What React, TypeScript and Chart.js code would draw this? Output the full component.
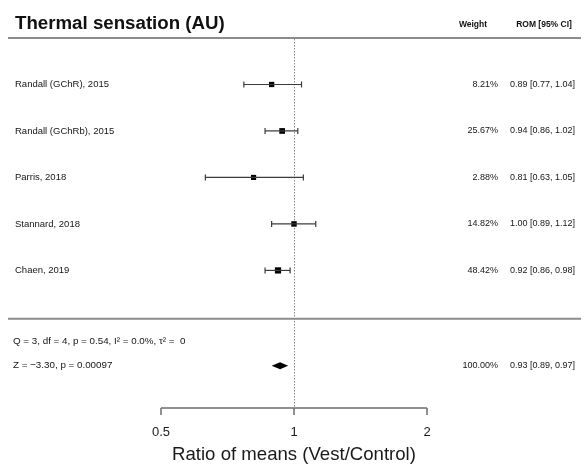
import React, { useEffect, useRef } from "react";
import { Chart, registerables } from "chart.js";

Chart.register(...registerables);

const studies = [
  "Randall (GChR), 2015",
  "Randall (GChRb), 2015",
  "Parris, 2018",
  "Stannard, 2018",
  "Chaen, 2019",
];
const estimates = [0.89, 0.94, 0.81, 1.0, 0.92];
const lowerCI = [0.77, 0.86, 0.63, 0.89, 0.86];
const upperCI = [1.04, 1.02, 1.05, 1.12, 0.98];
const weights = [8.21, 25.67, 2.88, 14.82, 48.42];
const pooled = [0.93, 0.89, 0.97]; // estimate, lower, upper
const pooledWeight = 100.0;
const heterogeneityText = "Q = 3, df = 4, p = 0.54, I² = 0.0%, τ² =  0";
const testText = "Z = −3.30, p = 0.00097";
const xTicks = [0.5, 1, 2];
const tickLabels = ["0.5", "1", "2"];
const titleText = "Thermal sensation (AU)";
const xTitle = "Ratio of means (Vest/Control)";
const headerWeight = "Weight";
const headerROM = "ROM [95% CI]";

const FONT = "'Liberation Sans', Arial, sans-serif";

export default function App() {
  const ref = useRef<HTMLCanvasElement | null>(null);

  useEffect(() => {
    const canvas = ref.current;
    if (!canvas) return;

    const rows = studies.map((_, i) => i + 1);
    const separatorRow = 6.04;
    const hetRow = 6.52;
    const pooledRow = 7.05;

    const fmt = (v: number) => v.toFixed(2);

    const forestPlugin = {
      id: "forest",
      beforeDatasetsDraw(chart: any) {
        const { ctx, scales, chartArea } = chart;
        const xs = scales.x;
        const x1 = xs.getPixelForValue(1);
        ctx.save();
        ctx.strokeStyle = "#8a8a8a";
        ctx.lineWidth = 1;
        ctx.setLineDash([1.5, 1.5]);
        ctx.beginPath();
        ctx.moveTo(Math.round(x1) + 0.5, chartArea.top + 1);
        ctx.lineTo(Math.round(x1) + 0.5, chartArea.bottom);
        ctx.stroke();
        ctx.restore();
      },
      afterDraw(chart: any) {
        const { ctx, scales, chartArea } = chart;
        const xs = scales.x;
        const ys = scales.y;
        const W = chart.width;
        ctx.save();

        // horizontal rules
        ctx.strokeStyle = "#8c8c8c";
        ctx.lineWidth = 2;
        ctx.beginPath();
        ctx.moveTo(8, chartArea.top);
        ctx.lineTo(W - 7, chartArea.top);
        const ySep = ys.getPixelForValue(separatorRow);
        ctx.moveTo(8, ySep);
        ctx.lineTo(W - 7, ySep);
        ctx.stroke();

        // title + headers
        ctx.fillStyle = "#111";
        ctx.textBaseline = "alphabetic";
        ctx.font = `bold 18.7px ${FONT}`;
        ctx.textAlign = "left";
        ctx.fillText(titleText, 15, 29);
        ctx.font = `bold 8.5px ${FONT}`;
        ctx.textAlign = "center";
        ctx.fillText(headerWeight, 473, 27);
        ctx.fillText(headerROM, 544, 27);

        // study labels and right columns
        ctx.textBaseline = "middle";
        ctx.fillStyle = "#151515";
        studies.forEach((s, i) => {
          const y = ys.getPixelForValue(rows[i]);
          ctx.font = `9.5px ${FONT}`;
          ctx.textAlign = "left";
          ctx.fillText(s, 15, y);
          ctx.font = `9px ${FONT}`;
          ctx.textAlign = "right";
          ctx.fillText(`${weights[i].toFixed(2)}%`, 498, y);
          ctx.textAlign = "left";
          ctx.fillText(`${fmt(estimates[i])} [${fmt(lowerCI[i])}, ${fmt(upperCI[i])}]`, 510, y);
        });

        // heterogeneity + test
        ctx.font = `9.8px ${FONT}`;
        ctx.textAlign = "left";
        ctx.fillText(heterogeneityText, 13, ys.getPixelForValue(hetRow));
        const yP = ys.getPixelForValue(pooledRow);
        ctx.fillText(testText, 13, yP);
        ctx.font = `9px ${FONT}`;
        ctx.textAlign = "right";
        ctx.fillText(`${pooledWeight.toFixed(2)}%`, 498, yP);
        ctx.textAlign = "left";
        ctx.fillText(`${fmt(pooled[0])} [${fmt(pooled[1])}, ${fmt(pooled[2])}]`, 510, yP);

        // pooled diamond
        const dl = xs.getPixelForValue(pooled[1]);
        const dc = xs.getPixelForValue(pooled[0]);
        const dr = xs.getPixelForValue(pooled[2]);
        ctx.fillStyle = "#000";
        ctx.beginPath();
        ctx.moveTo(dl, yP);
        ctx.lineTo(dc, yP - 3.5);
        ctx.lineTo(dr, yP);
        ctx.lineTo(dc, yP + 3.5);
        ctx.closePath();
        ctx.fill();

        // x axis
        const yA = chartArea.bottom;
        const xa = xs.getPixelForValue(xTicks[0]);
        const xb = xs.getPixelForValue(xTicks[xTicks.length - 1]);
        ctx.strokeStyle = "#6e6e6e";
        ctx.lineWidth = 1.5;
        ctx.beginPath();
        ctx.moveTo(xa, yA);
        ctx.lineTo(xb, yA);
        xTicks.forEach((t) => {
          const px = xs.getPixelForValue(t);
          ctx.moveTo(px, yA);
          ctx.lineTo(px, yA + 7);
        });
        ctx.stroke();
        ctx.fillStyle = "#1a1a1a";
        ctx.font = `13px ${FONT}`;
        ctx.textAlign = "center";
        ctx.textBaseline = "middle";
        xTicks.forEach((t, i) => {
          ctx.fillText(tickLabels[i], xs.getPixelForValue(t), yA + 24);
        });
        ctx.font = `18.6px ${FONT}`;
        ctx.fillText(xTitle, xs.getPixelForValue(1), yA + 47);

        ctx.restore();
      },
    };

    const whiskerSets = studies.map((s, i) => ({
      type: "line" as const,
      label: s,
      data: [
        { x: lowerCI[i], y: rows[i] },
        { x: upperCI[i], y: rows[i] },
      ],
      borderColor: "#3c3c3c",
      borderWidth: 1.2,
      pointStyle: "line",
      rotation: 90,
      pointRadius: 3,
      pointBorderColor: "#3c3c3c",
      pointBorderWidth: 1.2,
      showLine: true,
    }));

    const chart = new Chart(canvas, {
      type: "scatter",
      data: {
        datasets: [
          ...whiskerSets,
          {
            type: "scatter" as const,
            label: "estimates",
            data: estimates.map((e, i) => ({ x: e, y: rows[i] })),
            pointStyle: "rect",
            pointRadius: weights.map((w) => 3.6 + w / 60),
            backgroundColor: "#000",
            borderColor: "#000",
            borderWidth: 0,
          },
        ] as any,
      },
      options: {
        responsive: false,
        animation: false,
        events: [],
        layout: { padding: { left: 161, right: 161, top: 38, bottom: 63 } },
        plugins: { legend: { display: false }, tooltip: { enabled: false }, title: { display: false } },
        scales: {
          x: { type: "logarithmic", min: 0.5, max: 2, bounds: "data", display: false },
          y: { type: "linear", min: 0, max: 7.96, reverse: true, display: false },
        },
      },
      plugins: [forestPlugin],
    });

    return () => chart.destroy();
  }, []);

  return (
    <div style={{ position: "fixed", left: 0, top: 0, width: 588, height: 471, background: "#fff" }}>
      <canvas ref={ref} width={588} height={471} style={{ display: "block", width: 588, height: 471 }} />
    </div>
  );
}
